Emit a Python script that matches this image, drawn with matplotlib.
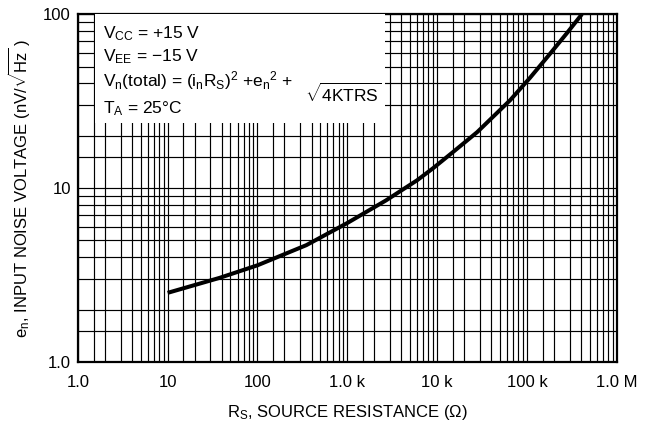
import matplotlib
matplotlib.use("Agg")
import matplotlib.pyplot as plt
from matplotlib.ticker import LogLocator, FixedLocator, NullFormatter
from matplotlib.patches import Rectangle

plt.rcParams['font.family'] = ['Liberation Sans Narrow', 'Liberation Sans', 'DejaVu Sans']
plt.rcParams['mathtext.fontset'] = 'custom'
plt.rcParams['mathtext.rm'] = 'Liberation Sans'
plt.rcParams['mathtext.it'] = 'Liberation Sans'

# source resistance (ohm) and input noise voltage (nV/rtHz)
rs = [10, 38, 100, 350, 1000, 2700, 6000, 9000, 15000, 28000, 65000, 108000, 180000, 280000, 410000]
en = [2.5, 3.05, 3.6, 4.7, 6.3, 8.5, 11.1, 13.0, 16.1, 21, 32, 43, 59, 78, 100]

x_ticks = [1, 10, 100, 1e3, 1e4, 1e5, 1e6]
x_labels = ["1.0", "10", "100", "1.0 k", "10 k", "100 k", "1.0 M"]
y_ticks = [1, 10, 100]
y_labels = ["1.0", "10", "100"]

fig = plt.figure(figsize=(6.54, 4.29), dpi=100)
ax = fig.add_axes([0.119, 0.156, 0.824, 0.811])

ax.set_xscale("log")
ax.set_yscale("log")
ax.set_xlim(1, 1e6)
ax.set_ylim(1, 100)

subs = [1.5, 2, 3, 4, 5, 6, 7, 8, 9]
ax.xaxis.set_major_locator(FixedLocator(x_ticks))
ax.yaxis.set_major_locator(FixedLocator(y_ticks))
ax.xaxis.set_minor_locator(LogLocator(base=10, subs=subs, numticks=20))
ax.yaxis.set_minor_locator(LogLocator(base=10, subs=subs, numticks=20))
ax.xaxis.set_minor_formatter(NullFormatter())
ax.yaxis.set_minor_formatter(NullFormatter())
ax.set_xticklabels(x_labels)
ax.set_yticklabels(y_labels)
ax.tick_params(which="both", length=0, labelsize=12)
ax.tick_params(axis="x", pad=9)
ax.tick_params(axis="y", pad=5)

ax.grid(which="both", color="black", linewidth=0.85)
ax.set_axisbelow(True)
for s in ax.spines.values():
    s.set_linewidth(1.6)

ax.plot(rs, en, color="black", linewidth=2.9, solid_capstyle="butt", zorder=5)

# white box behind the conditions text
ax.add_patch(Rectangle((0.0315, 0.687), 0.539, 0.313, transform=ax.transAxes,
                       facecolor="white", edgecolor="none", zorder=3))

fs = 12.5
ax.text(0.047, 0.945, r"V$_\mathregular{CC}$ = +15 V", transform=ax.transAxes,
        fontsize=fs, va="center", zorder=4)
ax.text(0.047, 0.878, r"V$_\mathregular{EE}$ = $-$15 V", transform=ax.transAxes,
        fontsize=fs, va="center", zorder=4)
ax.text(0.047, 0.810,
        r"V$_\mathregular{n}$(total) = (i$_\mathregular{n}$R$_\mathregular{S}$)$^\mathregular{2}$ +e$_\mathregular{n}$$^\mathregular{2}$ +",
        transform=ax.transAxes, fontsize=fs, va="center", zorder=4)
ax.text(0.422, 0.772, r"$\sqrt{\mathregular{4KTRS}}$", transform=ax.transAxes,
        fontsize=fs, va="center", zorder=4)
ax.text(0.047, 0.728, r"T$_\mathregular{A}$ = 25°C", transform=ax.transAxes,
        fontsize=fs, va="center", zorder=4)

ax.set_xlabel(r"R$_\mathregular{S}$, SOURCE RESISTANCE ($\Omega$)", fontsize=12, labelpad=10)
ax.set_ylabel(r"e$_\mathregular{n}$, INPUT NOISE VOLTAGE (nV/$\sqrt{\mathregular{Hz}}$ )",
              fontsize=12, labelpad=8)

fig.savefig("out.png", dpi=100)
